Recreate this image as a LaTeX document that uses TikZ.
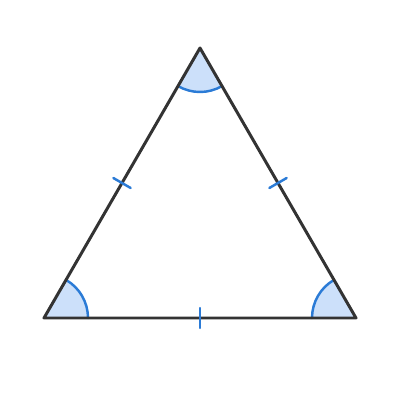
\documentclass[tikz,border=0pt]{standalone}
\usetikzlibrary{calc}
\definecolor{edgegray}{HTML}{333333}
\definecolor{markblue}{HTML}{2B7BD6}
\definecolor{fillblue}{HTML}{CCE0FA}
\begin{document}
\begin{tikzpicture}[scale=1, line join=round, line cap=round]
			\useasboundingbox (0,0) rectangle (8,8);
			\coordinate (A) at (0.88,1.64); \coordinate (B) at (7.12,1.64);
			\coordinate (C) at (4,7.04);
			\coordinate (MAB) at ($(A)!0.5!(B)$);
			\coordinate (MBC) at ($(B)!0.5!(C)$);
			\coordinate (MCA) at ($(C)!0.5!(A)$);
			% angle marks
			\fill[fillblue] (A) -- ++(0:0.88) arc (0:60:0.88) -- cycle;
			\fill[fillblue] (B) -- ++(120:0.88) arc (120:180:0.88) -- cycle;
			\fill[fillblue] (C) -- ++(240:0.88) arc (240:300:0.88) -- cycle;
			\draw[markblue, line width=1.4pt] (A) ++(0:0.88) arc (0:60:0.88);
			\draw[markblue, line width=1.4pt] (B) ++(120:0.88) arc (120:180:0.88);
			\draw[markblue, line width=1.4pt] (C) ++(240:0.88) arc (240:300:0.88);
			\draw[edgegray, line width=1.7pt] (A)--(B)--(C)--cycle;
			% equal sides
			\draw[markblue, line width=1.4pt] ($(MAB)!0.2cm!90:(B)$)--($(MAB)!0.2cm!-90:(B)$);
			\draw[markblue, line width=1.4pt] ($(MBC)!0.2cm!90:(C)$)--($(MBC)!0.2cm!-90:(C)$);
			\draw[markblue, line width=1.4pt] ($(MCA)!0.2cm!90:(A)$)--($(MCA)!0.2cm!-90:(A)$);
		\end{tikzpicture}
\end{document}
